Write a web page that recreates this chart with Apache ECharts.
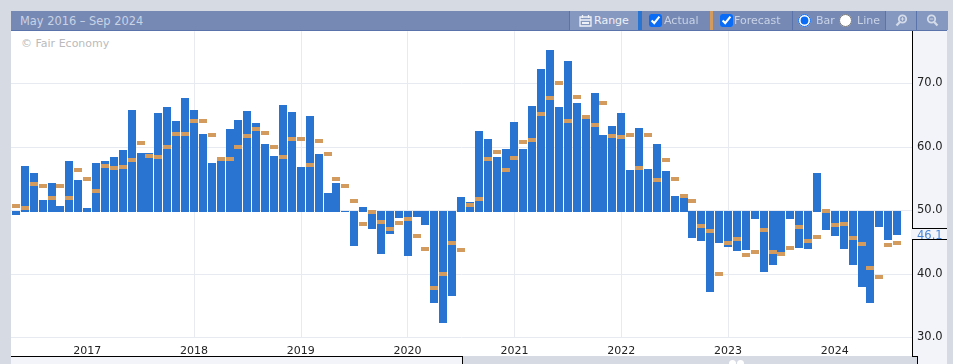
<!DOCTYPE html>
<html>
<head>
<meta charset="utf-8">
<title>May 2016 – Sep 2024</title>
<script src="https://cdn.jsdelivr.net/npm/echarts@6/dist/echarts.min.js"></script>
<style>
  html, body { margin: 0; padding: 0; width: 953px; height: 364px; overflow: hidden; background: #d6dae3; font-family: "DejaVu Sans", sans-serif; }
  .box { position: absolute; box-sizing: border-box; }
  #plot { left: 11px; top: 31px; width: 901px; height: 325px; background: #fff; }
  #axisPanel { left: 912px; top: 31px; width: 35px; height: 325px; background: #f2f4f9; border-left: 1px solid #000; }
  #tail { left: 912px; top: 356px; width: 35px; height: 8px; background: #f2f4f9; }
  #tailStep { left: 912px; top: 356px; width: 6px; height: 8px; background: #d6dae3; border-top: 1px solid #000; border-right: 1px solid #000; }
  #nav { left: 11px; top: 356px; width: 452px; height: 8px; background: #f2f4f9; border-top: 1px solid #000; border-right: 1px solid #000; }
  .grip { width: 7px; height: 7px; border-radius: 50%; background: #fff; top: 360px; }
  #copy { left: 21px; top: 37px; font-size: 11px; color: #bbb; }
  #chart { position: absolute; left: 0; top: 0; width: 953px; height: 364px; }
  #bar { left: 11px; top: 11px; width: 936px; height: 20px; background: #7689b4; border-bottom: 1px solid #5a74ab; }
  #bar span, #bar svg, #bar input { position: absolute; }
  .t { top: 2px; font-size: 11px; line-height: 16px; color: #c9d3e6; white-space: nowrap; }
  .seg { top: 0; height: 19px; }
  #bar input { margin: 0; top: 3px; width: 13px; height: 13px; accent-color: #0a6cf5; }
</style>
</head>
<body>
<div class="box" id="plot"></div>
<div class="box" id="axisPanel"></div>
<div class="box" id="tail"></div>
<div class="box" id="tailStep"></div>
<div class="box" id="nav"></div>
<div class="box grip" style="left:729px"></div>
<div class="box grip" style="left:737px"></div>
<div class="box" id="copy">© Fair Economy</div>
<div id="chart"></div>
<div class="box" id="bar">
  <span class="t" style="left:9px;font-size:11.4px">May 2016 – Sep 2024</span>
  <span class="seg" style="left:558px;width:69px;background:#8598c0;border-left:1px solid #5a74ab"></span>
  <svg style="left:568px;top:3px" width="13" height="13" viewBox="0 0 13 13"><path d="M1 3h11v9H1zM3.500 1v3M9.500 1v3M1 6h11" fill="none" stroke="#eef1f7" stroke-width="1.300"/><path d="M3 8h7v2H3z" fill="#eef1f7"/></svg>
  <span class="t" style="left:583px;color:#eef1f7">Range</span>
  <span class="seg" style="left:627px;width:4px;background:#2874d0"></span>
  <input type="checkbox" checked style="left:638px">
  <span class="t" style="left:653px">Actual</span>
  <span class="seg" style="left:699px;width:3px;background:#d49b5e"></span>
  <input type="checkbox" checked style="left:709px">
  <span class="t" style="left:723px">Forecast</span>
  <span class="seg" style="left:781px;width:1px;background:#5a74ab"></span>
  <input type="radio" name="mode" checked style="left:787px">
  <span class="t" style="left:805px">Bar</span>
  <input type="radio" name="mode" style="left:828px">
  <span class="t" style="left:846px">Line</span>
  <span class="seg" style="left:874px;width:31px;background:#8598c0;border-left:1px solid #5a74ab"></span>
  <span class="seg" style="left:905px;width:31px;background:#8598c0;border-left:1px solid #5a74ab"></span>
  <svg style="left:884px;top:3px" width="13" height="13" viewBox="0 0 13 13"><circle cx="7.500" cy="5" r="3.700" fill="none" stroke="#d4dbe9" stroke-width="1.800"/><path d="M4.800 8 1.500 11.500" stroke="#d4dbe9" stroke-width="2.200"/><path d="M5.700 5h3.600M7.500 3.200v3.600" stroke="#d4dbe9"/></svg>
  <svg style="left:915px;top:3px" width="13" height="13" viewBox="0 0 13 13"><circle cx="5.500" cy="5" r="3.700" fill="none" stroke="#d4dbe9" stroke-width="1.800"/><path d="M8.200 8 11.500 11.500" stroke="#d4dbe9" stroke-width="2.200"/><path d="M3.700 5h3.600" stroke="#d4dbe9"/></svg>
</div>
<script>
// monthly readings, May 2016 to Aug 2024
var firstYear = 2016, firstMonth = 4;
var actual = [
  49.3,57.0,55.9,51.65,54.3,50.7,57.8,54.8,50.4,57.5,57.8,58.4,59.5,65.8,59.05,59.05,65.35,66.3,64.1,67.7,
  65.8,62.0,57.5,57.8,62.8,64.25,65.7,63.8,60.5,58.6,66.6,65.5,56.85,64.9,58.9,52.75,54.3,49.8,44.4,50.55,
  47.1,43.15,46.3,48.8,42.8,49.0,47.7,35.4,32.3,36.5,52.1,51.35,62.5,61.25,58.4,59.7,63.9,59.7,66.45,72.3,
  75.3,66.3,73.55,66.9,64.4,68.5,61.9,63.3,65.35,56.4,63.0,56.5,60.5,56.2,52.3,52.0,45.7,45.2,37.15,44.9,
  44.25,43.6,43.8,48.65,40.3,41.4,43.15,48.65,44.1,43.95,55.9,46.9,46.0,43.95,41.4,37.95,35.4,47.4,45.35,46.1
];
var forecast = [
  50.7,50.4,54.2,53.86,52.0,53.86,52.0,56.4,55.0,53.1,57.0,56.7,56.85,58.0,60.6,58.6,58.4,60.0,62.0,62.0,
  64.1,64.1,61.9,58.1,58.1,60.0,61.7,62.8,62.2,60.0,58.4,61.3,61.3,57.2,60.9,58.9,55.0,53.86,51.5,47.9,
  49.8,48.2,47.1,48.05,48.65,46.0,43.9,37.8,40.0,44.9,43.8,50.85,51.8,58.1,59.2,56.4,58.3,60.8,61.1,65.2,
  67.7,70.1,64.1,67.9,64.7,63.5,66.9,61.75,61.6,61.9,56.7,61.9,54.8,58.0,55.0,52.3,51.5,47.55,46.8,40.0,
  44.9,45.5,43.0,43.45,46.9,43.45,43.15,44.1,47.4,45.2,45.8,49.9,47.7,47.9,45.7,44.7,40.95,39.5,44.55,44.9
];
var yearTicks = [8, 20, 32, 44, 56, 68, 80, 92];
var baseline = 50;

function tickYear(i) {
  return firstYear + Math.floor((firstMonth + i) / 12);
}

function indexed(list) {
  return list.map(function (v, i) { return [i, v]; });
}

function renderActual(params, api) {
  var i = api.value(0);
  var v = api.value(1);
  var top = api.coord([i, v]);
  var base = api.coord([i, baseline]);
  var x = Math.round(top[0] - 4);
  var y0 = Math.round(Math.min(top[1], base[1]) + 0.2);
  var y1 = Math.round(Math.max(top[1], base[1]) + 0.2);
  // bars above the baseline sit one pixel over it
  if (v >= baseline) y1 += 1;
  return {
    type: 'rect',
    shape: { x: x, y: y0, width: 8, height: y1 - y0 },
    style: { fill: '#2874d0' }
  };
}

function renderForecast(params, api) {
  var p = api.coord([api.value(0), api.value(1)]);
  return {
    type: 'rect',
    shape: { x: Math.round(p[0] - 4), y: Math.round(p[1] - 1.8), width: 8, height: 4 },
    style: { fill: '#d49b5e' }
  };
}

var chart = echarts.init(document.getElementById('chart'), null, { renderer: 'canvas' });

var gridLine = { color: '#e8eaf1', width: 1 };

chart.setOption({
  animation: false,
  backgroundColor: 'transparent',
  textStyle: { fontFamily: '"DejaVu Sans", sans-serif' },
  grid: { left: 11, top: 31.3, width: 901, height: 306 },
  xAxis: {
    type: 'value',
    min: -0.56,
    max: 100.67,
    axisLine: { show: false },
    axisTick: { show: false, customValues: yearTicks },
    axisLabel: {
      customValues: yearTicks,
      formatter: function (v) { return String(tickYear(v)); },
      color: '#222',
      fontSize: 11,
      margin: 8
    },
    splitLine: { show: true, lineStyle: gridLine, showMinLine: false, showMaxLine: false }
  },
  yAxis: {
    type: 'value',
    position: 'right',
    min: 30,
    max: 78.2,
    interval: 10,
    axisLine: { show: false },
    axisTick: { show: false },
    axisLabel: {
      showMaxLabel: false,
      formatter: function (v) { return v.toFixed(1); },
      color: '#222',
      fontSize: 11.5,
      margin: 5,
      padding: [2, 0, 0, 0]
    },
    splitLine: { show: true, lineStyle: gridLine, showMaxLine: false }
  },
  series: [
    { name: 'Actual', type: 'custom', renderItem: renderActual, data: indexed(actual), encode: { x: 0, y: 1 }, clip: true, z: 2 },
    { name: 'Forecast', type: 'custom', renderItem: renderForecast, data: indexed(forecast), encode: { x: 0, y: 1 }, clip: true, z: 3 }
  ]
});

// tag for the latest reading on the price axis
var last = actual[actual.length - 1];
var tagY = Math.round(chart.convertToPixel({ yAxisIndex: 0 }, last)) - 1;
chart.setOption({
  graphic: [
    { type: 'rect', shape: { x: 911, y: tagY - 5, width: 36, height: 11 }, style: { fill: '#f2f4f9' }, z: 10 },
    { type: 'rect', shape: { x: 912, y: tagY - 6, width: 35, height: 1 }, style: { fill: '#000' }, z: 11 },
    { type: 'rect', shape: { x: 912, y: tagY + 5, width: 35, height: 1 }, style: { fill: '#000' }, z: 11 },
    { type: 'text', x: 917, y: tagY - 4, style: { text: last.toFixed(1), fill: '#4a86d8', font: '11.5px "DejaVu Sans"', textAlign: 'left', textVerticalAlign: 'top' }, z: 12 }
  ]
});
</script>
</body>
</html>
